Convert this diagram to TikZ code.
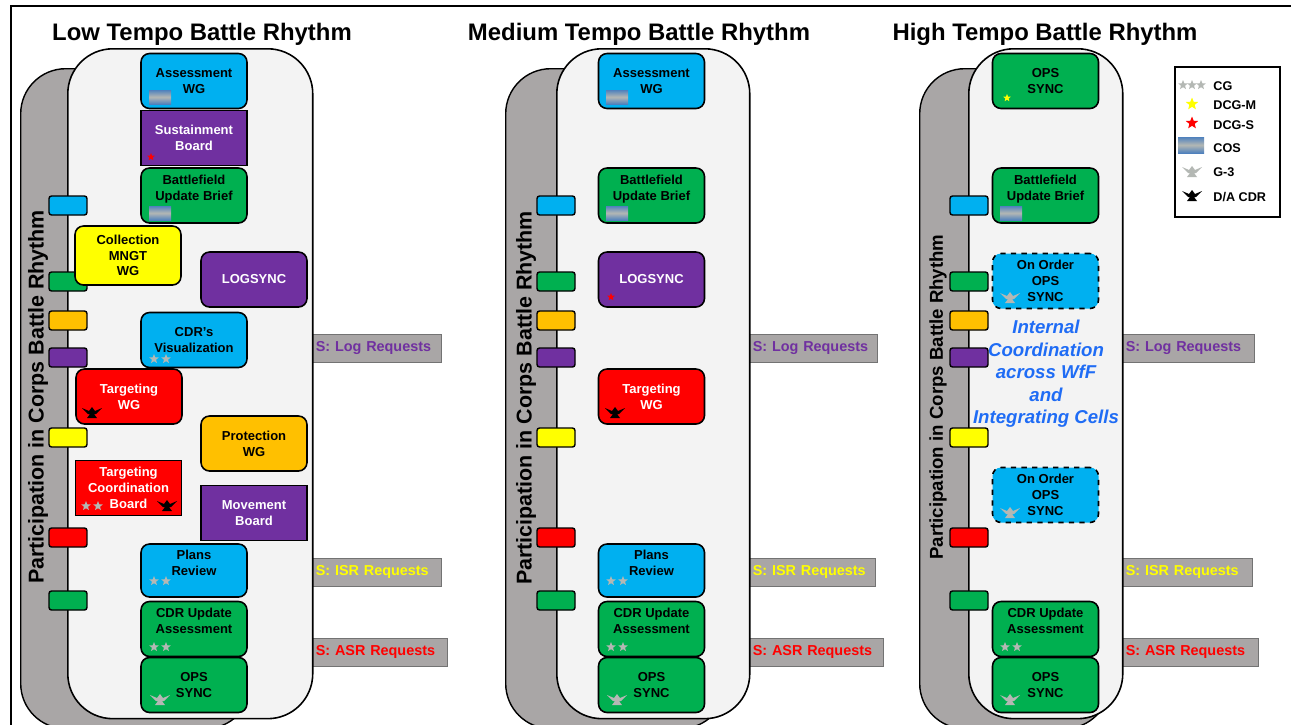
\documentclass[tikz,border=0pt]{standalone}
\usepackage{xcolor}
\usepackage{fontspec}
\setmainfont{Liberation Sans}
\usetikzlibrary{shapes.geometric,positioning}

\definecolor{wfblue}{HTML}{00B0F0}
\definecolor{wfgreen}{HTML}{00B050}
\definecolor{wfamber}{HTML}{FFC000}
\definecolor{wfpurple}{HTML}{7030A0}
\definecolor{wfyellow}{HTML}{FFFF00}
\definecolor{wfred}{HTML}{FF0000}
\definecolor{backgrey}{HTML}{A9A6A6}
\definecolor{panelgrey}{HTML}{F3F3F3}
\definecolor{rankgrey}{HTML}{B4B8B4}
\definecolor{cosblue}{HTML}{4F81BD}
\definecolor{cellblue}{HTML}{1F6CF5}

% rank marks, all placed at pixel positions
\newcommand{\twostars}[3]{
    \node[rankstar] (#1a) at (#2-6,#3) {};
    \node[rankstar] (#1b) at (#2+6,#3) {};
}
\newcommand{\cosmark}[3]{
    \node[cosbar] (#1) at (#2,#3) {};
}

\begin{document}
\begin{tikzpicture}[
    x=0.02cm, y=-0.02cm,
    box/.style={rectangle, draw=black, line width=0.9pt, rounded corners=0.17cm, minimum width=2.12cm, minimum height=1.1cm, inner sep=0pt, align=center, font=\fontsize{7.4}{9}\selectfont\bfseries},
    sharpbox/.style={box, sharp corners},
    oncall/.style={box, dashed},
    tab/.style={rectangle, draw=black, line width=0.8pt, rounded corners=0.05cm, minimum width=0.76cm, minimum height=0.38cm, inner sep=0pt},
    backpanel/.style={rectangle, draw=black, line width=0.8pt, fill=backgrey, rounded corners=0.9cm, inner sep=0pt},
    frontpanel/.style={rectangle, draw=black, line width=0.9pt, fill=panelgrey, rounded corners=0.9cm, inner sep=0pt},
    reqbar/.style={rectangle, draw=black!55, fill=backgrey, line width=0.4pt, minimum height=0.56cm, inner sep=0pt, anchor=west, font=\fontsize{8.2}{9}\selectfont\bfseries},
    title/.style={font=\fontsize{13.6}{16}\selectfont\bfseries},
    sideline/.style={rotate=90, font=\fontsize{12.2}{14}\selectfont\bfseries},
    rankstar/.style={star, star points=5, star point ratio=2.3, fill=rankgrey, minimum size=0.2cm, inner sep=0pt},
    cosbar/.style={rectangle, top color=cosblue, bottom color=cosblue, middle color=rankgrey, minimum width=0.44cm, minimum height=0.28cm, inner sep=0pt},
    legendtext/.style={anchor=west, inner sep=0pt, font=\fontsize{7.2}{9}\selectfont\bfseries},
    eagle/.pic={
        \path[pic actions] (-10,-4) -- (-3,-1) -- (0,-5) -- (3,-1) -- (10,-4) -- (4,2) -- (2,2) -- (5,6) -- (-5,6) -- (-2,2) -- (-4,2) -- cycle;
    }
]
    \useasboundingbox (0,0) rectangle (1291,724);
    \node[draw=black, line width=1.1pt, minimum width=25.8cm, minimum height=14.4cm, anchor=north west, inner sep=0pt] (frame) at (10,5) {};

    \node[title] (lowtitle) at (202,34) {Low Tempo Battle Rhythm};
    \node[title] (medtitle) at (639,34) {Medium Tempo Battle Rhythm};
    \node[title] (hightitle) at (1045,34) {High Tempo Battle Rhythm};

    % request bars sit behind the panels
    \node[reqbar, minimum width=2.6cm, text width=2.42cm, text=wfpurple] (lowlog) at (311,348) {S: Log Requests};
    \node[reqbar, minimum width=2.6cm, text width=2.42cm, text=wfyellow] (lowisr) at (311,572) {S: ISR Requests};
    \node[reqbar, minimum width=2.72cm, text width=2.54cm, text=wfred] (lowasr) at (311,652) {S: ASR Requests};
    \node[reqbar, minimum width=2.58cm, text width=2.4cm, text=wfpurple] (medlog) at (748,348) {S: Log Requests};
    \node[reqbar, minimum width=2.54cm, text width=2.36cm, text=wfyellow] (medisr) at (748,572) {S: ISR Requests};
    \node[reqbar, minimum width=2.7cm, text width=2.52cm, text=wfred] (medasr) at (748,652) {S: ASR Requests};
    \node[reqbar, minimum width=2.66cm, text width=2.48cm, text=wfpurple] (highlog) at (1121,348) {S: Log Requests};
    \node[reqbar, minimum width=2.62cm, text width=2.44cm, text=wfyellow] (highisr) at (1121,572) {S: ISR Requests};
    \node[reqbar, minimum width=2.74cm, text width=2.56cm, text=wfred] (highasr) at (1121,652) {S: ASR Requests};

    \node[backpanel, minimum width=4.6cm, minimum height=13.2cm, anchor=north west] (lowback) at (20,68) {};
    \node[backpanel, minimum width=4.4cm, minimum height=13.2cm, anchor=north west] (medback) at (505,68) {};
    \node[backpanel, minimum width=3.8cm, minimum height=13.2cm, anchor=north west] (highback) at (919,68) {};
    \node[frontpanel, minimum width=4.9cm, minimum height=13.4cm, anchor=north west] (lowfront) at (67,48) {};
    \node[frontpanel, minimum width=3.86cm, minimum height=13.4cm, anchor=north west] (medfront) at (556,48) {};
    \node[frontpanel, minimum width=3.08cm, minimum height=13.4cm, anchor=north west] (highfront) at (968,48) {};

    \node[sideline] (lowside) at (38,397) {Participation in Corps Battle Rhythm};
    \node[sideline] (medside) at (526,398) {Participation in Corps Battle Rhythm};
    \node[sideline, font=\fontsize{10.6}{12}\selectfont\bfseries] (highside) at (938,397) {Participation in Corps Battle Rhythm};

    \foreach \panel/\tabx in {low/68, med/556, high/969} {
        \foreach \tabname/\tabcol/\taby in {a/wfblue/205.5, b/wfgreen/281.5, c/wfamber/320.5, d/wfpurple/357.5, e/wfyellow/437.5, f/wfred/537.5, g/wfgreen/600.5} {
            \node[tab, fill=\tabcol] (\panel\tabname) at (\tabx,\taby) {};
        }
    }

    % low tempo
    \node[box, fill=wfblue] (lowassess) at (194,81) {Assessment\\WG};
    \node[sharpbox, fill=wfpurple, text=white] (lowsustain) at (194,138) {Sustainment\\Board};
    \node[box, fill=wfgreen] (lowbub) at (194,195.5) {Battlefield\\Update Brief\\~};
    \node[box, fill=wfyellow, minimum height=1.18cm] (lowcollect) at (128,255.5) {Collection\\MNGT\\WG};
    \node[box, fill=wfpurple, text=white] (lowlogsync) at (254,279.5) {LOGSYNC};
    \node[box, fill=wfblue] (lowviz) at (194,340) {CDR's\\Visualization};
    \node[box, fill=wfred, text=white] (lowtarget) at (129,396.5) {Targeting\\WG};
    \node[box, fill=wfamber] (lowprotect) at (254,443.5) {Protection\\WG};
    \node[sharpbox, fill=wfred, text=white] (lowcoord) at (128.5,488) {Targeting\\Coordination\\Board};
    \node[sharpbox, fill=wfpurple, text=white] (lowmove) at (254,513) {Movement\\Board};
    \node[box, fill=wfblue, minimum height=1.06cm] (lowplans) at (194,570.5) {Plans\\Review\\~};
    \node[box, fill=wfgreen] (lowupdate) at (194,629) {CDR Update\\Assessment\\~};
    \node[box, fill=wfgreen] (lowops) at (194,685) {OPS\\SYNC};

    % medium tempo
    \node[box, fill=wfblue] (medassess) at (651.5,81) {Assessment\\WG};
    \node[box, fill=wfgreen] (medbub) at (651.5,195.5) {Battlefield\\Update Brief\\~};
    \node[box, fill=wfpurple, text=white] (medlogsync) at (651.5,279.5) {LOGSYNC};
    \node[box, fill=wfred, text=white] (medtarget) at (651.5,396.5) {Targeting\\WG};
    \node[box, fill=wfblue, minimum height=1.06cm] (medplans) at (651.5,570.5) {Plans\\Review\\~};
    \node[box, fill=wfgreen] (medupdate) at (651.5,629) {CDR Update\\Assessment\\~};
    \node[box, fill=wfgreen] (medops) at (651.5,685) {OPS\\SYNC};

    % high tempo
    \node[box, fill=wfgreen] (highsync) at (1045.5,81) {OPS\\SYNC};
    \node[box, fill=wfgreen] (highbub) at (1045.5,195.5) {Battlefield\\Update Brief\\~};
    \node[oncall, fill=wfblue] (highorderone) at (1045.5,281) {On Order\\OPS\\SYNC};
    \node[oncall, fill=wfblue] (highordertwo) at (1045.5,495) {On Order\\OPS\\SYNC};
    \node[box, fill=wfgreen] (highupdate) at (1045.5,629) {CDR Update\\Assessment\\~};
    \node[box, fill=wfgreen] (highops) at (1045.5,685) {OPS\\SYNC};
    \node[align=center, inner sep=0pt, text=cellblue, font=\fontsize{10.6}{12.8}\selectfont\bfseries\itshape] (highcells) at (1046,374) {Internal\\Coordination\\across WfF\\and\\Integrating Cells};

    % rank marks
    \cosmark{lowmarka}{160}{97}
    \cosmark{lowmarkb}{160}{213}
    \cosmark{medmarka}{617}{97}
    \cosmark{medmarkb}{617}{213}
    \cosmark{highmarkb}{1011}{213}
    \twostars{lowviewstar}{160}{359}
    \twostars{lowcoordstar}{92}{506}
    \twostars{lowplanstar}{160}{581}
    \twostars{lowupdstar}{160}{647}
    \twostars{medplanstar}{617}{581}
    \twostars{medupdstar}{617}{647}
    \twostars{highupdstar}{1011}{647}
    \node[rankstar, fill=wfred, minimum size=0.16cm] (lowredstar) at (151,157) {};
    \node[rankstar, fill=wfred, minimum size=0.16cm] (medredstar) at (611,297) {};
    \node[rankstar, fill=wfyellow, minimum size=0.16cm] (highyellowstar) at (1007,98) {};
    \pic[fill=black] (lowtargeteagle) at (92,412) {eagle};
    \pic[fill=black] (lowcoordeagle) at (167,505) {eagle};
    \pic[fill=black] (medtargeteagle) at (615,412) {eagle};
    \pic[fill=rankgrey] (lowopseagle) at (160,699) {eagle};
    \pic[fill=rankgrey] (medopseagle) at (617,699) {eagle};
    \pic[fill=rankgrey] (highopseagle) at (1010,699) {eagle};
    \pic[fill=rankgrey] (highordereagleone) at (1010,297) {eagle};
    \pic[fill=rankgrey] (highordereagletwo) at (1010,512) {eagle};

    % legend
    \node[draw=black, line width=1pt, fill=white, minimum width=2.1cm, minimum height=3cm, anchor=north west, inner sep=0pt] (legend) at (1174,66) {};
    \node[rankstar, minimum size=0.2cm] (legcga) at (1183,85) {};
    \node[rankstar, minimum size=0.2cm] (legcgb) at (1192,85) {};
    \node[rankstar, minimum size=0.2cm] (legcgc) at (1201,85) {};
    \node[rankstar, fill=wfyellow, minimum size=0.26cm] (legdcgm) at (1192,104) {};
    \node[rankstar, fill=wfred, minimum size=0.26cm] (legdcgs) at (1192,123) {};
    \node[cosbar, minimum width=0.52cm, minimum height=0.32cm] (legcos) at (1191,145) {};
    \pic[fill=rankgrey] (leggthree) at (1192,171) {eagle};
    \pic[fill=black] (legcdr) at (1192,195) {eagle};
    \node[legendtext] (legcgtext) at (1213,86) {CG};
    \node[legendtext] (legdcgmtext) at (1213,105) {DCG-M};
    \node[legendtext] (legdcgstext) at (1213,125) {DCG-S};
    \node[legendtext] (legcostext) at (1213,148) {COS};
    \node[legendtext] (leggthreetext) at (1213,172) {G-3};
    \node[legendtext] (legcdrtext) at (1213,197) {D/A CDR};
\end{tikzpicture}
\end{document}
